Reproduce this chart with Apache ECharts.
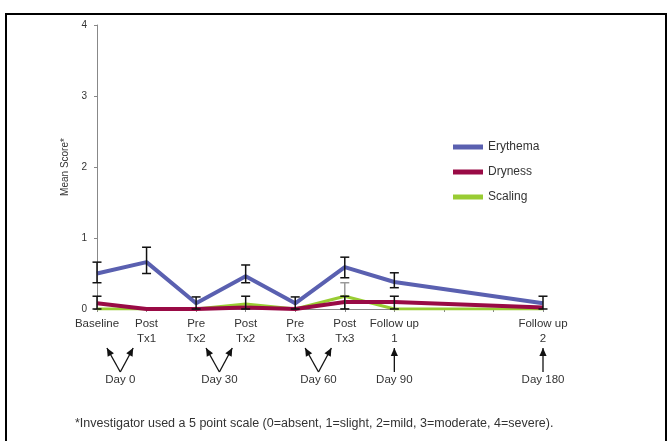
<!DOCTYPE html>
<html>
<head>
<meta charset="utf-8">
<script src="https://cdn.jsdelivr.net/npm/echarts@6/dist/echarts.min.js"></script>
<style>
  html, body { margin: 0; padding: 0; background: #fff; }
  #chart { width: 668px; height: 441px; }
</style>
</head>
<body>
<div id="chart"></div>
<script>
  const categories = ['Baseline', 'Post\nTx1', 'Pre\nTx2', 'Post\nTx2', 'Pre\nTx3', 'Post\nTx3', 'Follow up\n1', 'Follow up\n2'];
  const xPos = [0, 1, 2, 3, 4, 5, 6, 9];

  const erythema = [0.5, 0.66, 0.08, 0.46, 0.08, 0.59, 0.38, 0.08];
  const erythemaHigh = [0.66, 0.87, 0.17, 0.62, 0.17, 0.73, 0.51, 0.18];
  const erythemaLow = [0.37, 0.5, 0.0, 0.37, 0.0, 0.44, 0.3, 0.0];

  const dryness = [0.08, 0, 0, 0.02, 0, 0.1, 0.1, 0.02];
  const drynessHigh = [0.18, null, null, 0.18, null, 0.18, 0.18, null];

  const scaling = [0, 0, 0, 0.07, 0, 0.18, 0, 0];
  const scalingHigh = [null, null, null, null, null, 0.37, null, null];

  const dayLabels = ['Day 0', 'Day 30', 'Day 60', 'Day 90', 'Day 180'];
  const dayAt = [0.47, 2.47, 4.47, 6, 9];
  const dayTips = [[0.2, 0.73], [2.2, 2.73], [4.2, 4.73], [6], [9]];

  const footnote = '*Investigator used a 5 point scale (0=absent, 1=slight, 2=mild, 3=moderate, 4=severe).';

  const pairs = vals => vals.map((v, i) => [xPos[i], v]);

  function errorBars(name, high, low, color, z) {
    const data = [];
    high.forEach((h, i) => {
      if (h == null) return;
      const lo = low ? low[i] : 0;
      data.push([xPos[i], lo, h]);
    });
    return {
      type: 'custom', name: name, z: z, silent: true,
      renderItem: function (params, api) {
        const top = api.coord([api.value(0), api.value(2)]);
        const bot = api.coord([api.value(0), api.value(1)]);
        const w = 4.5;
        const style = { stroke: color, lineWidth: 1.5 };
        return {
          type: 'group',
          children: [
            { type: 'line', shape: { x1: top[0], y1: top[1], x2: bot[0], y2: bot[1] }, style: style },
            { type: 'line', shape: { x1: top[0] - w, y1: top[1], x2: top[0] + w, y2: top[1] }, style: style },
            { type: 'line', shape: { x1: bot[0] - w, y1: bot[1], x2: bot[0] + w, y2: bot[1] }, style: style }
          ]
        };
      },
      data: data
    };
  }

  const chart = echarts.init(document.getElementById('chart'));
  const textFont = 'Liberation Sans, Arial, sans-serif';

  chart.setOption({
    animation: false,
    textStyle: { fontFamily: textFont },
    grid: { left: 97, top: 25, width: 446, height: 284 },
    legend: {
      orient: 'vertical', left: 448, top: 136, itemGap: 13,
      itemWidth: 30, itemHeight: 5, icon: 'rect',
      textStyle: { color: '#333', fontSize: 12 },
      data: ['Erythema', 'Dryness', 'Scaling']
    },
    xAxis: {
      type: 'value', min: 0, max: 9, interval: 1,
      axisLine: { lineStyle: { color: '#888', width: 1 } },
      axisTick: { show: true, length: 3, lineStyle: { color: '#888' } },
      splitLine: { show: false },
      axisLabel: {
        color: '#333', fontSize: 11.5, lineHeight: 15, margin: 7,
        formatter: function (v) { const i = xPos.indexOf(v); return i >= 0 ? categories[i] : ''; }
      }
    },
    yAxis: {
      type: 'value', min: 0, max: 4, interval: 1,
      name: 'Mean Score*', nameLocation: 'middle', nameGap: 27, nameRotate: 90,
      nameTextStyle: { color: '#333', fontSize: 10 },
      axisLine: { show: true, lineStyle: { color: '#888', width: 1 } },
      axisTick: { show: true, length: 3, lineStyle: { color: '#888' } },
      splitLine: { show: false },
      axisLabel: { color: '#333', fontSize: 10, margin: 10 }
    },
    series: [
      {
        name: 'Scaling', type: 'line', z: 2, data: pairs(scaling), symbol: 'none',
        lineStyle: { color: '#99cc33', width: 3 }, itemStyle: { color: '#99cc33' }
      },
      {
        name: 'Dryness', type: 'line', z: 3, data: pairs(dryness), symbol: 'none',
        lineStyle: { color: '#990a45', width: 4 }, itemStyle: { color: '#990a45' }
      },
      {
        name: 'Erythema', type: 'line', z: 4, data: pairs(erythema), symbol: 'none',
        lineStyle: { color: '#5a60b0', width: 4 }, itemStyle: { color: '#5a60b0' }
      },
      errorBars('errScaling', scalingHigh, null, '#999', 5),
      errorBars('errDryness', drynessHigh, null, '#111', 6),
      errorBars('errErythema', erythemaHigh, erythemaLow, '#111', 7)
    ]
  });

  // annotations under the axis: arrows to time points and day labels
  function arrowHead(tip, from, size) {
    const dx = tip[0] - from[0], dy = tip[1] - from[1];
    const len = Math.sqrt(dx * dx + dy * dy);
    const ux = dx / len, uy = dy / len;
    const bx = tip[0] - ux * size, by = tip[1] - uy * size;
    const px = -uy * size * 0.45, py = ux * size * 0.45;
    return {
      type: 'polygon',
      shape: { points: [tip, [bx + px, by + py], [bx - px, by - py]] },
      style: { fill: '#111' }
    };
  }

  const yBase = chart.convertToPixel({ gridIndex: 0 }, [0, 0])[1];
  const graphics = [];
  dayLabels.forEach((lab, i) => {
    const cx = chart.convertToPixel({ gridIndex: 0 }, [dayAt[i], 0])[0];
    const bottom = [cx, yBase + 63];
    dayTips[i].forEach(t => {
      const tx = chart.convertToPixel({ gridIndex: 0 }, [t, 0])[0];
      const tip = [tx, yBase + 39];
      graphics.push({ type: 'line', shape: { x1: bottom[0], y1: bottom[1], x2: tip[0], y2: tip[1] }, style: { stroke: '#111', lineWidth: 1.3 } });
      graphics.push(arrowHead(tip, bottom, 8));
    });
    graphics.push({
      type: 'text', x: cx, y: yBase + 71,
      style: { text: lab, fill: '#333', font: '11.5px ' + textFont, align: 'center', verticalAlign: 'middle' }
    });
  });
  graphics.push({
    type: 'text', x: 75, y: 424,
    style: { text: footnote, fill: '#333', font: '12.5px ' + textFont, verticalAlign: 'middle' }
  });
  graphics.push({
    type: 'rect', shape: { x: 6, y: 14, width: 660, height: 440 },
    style: { fill: 'none', stroke: '#000', lineWidth: 2 }, silent: true
  });
  chart.setOption({ graphic: graphics });
</script>
</body>
</html>
